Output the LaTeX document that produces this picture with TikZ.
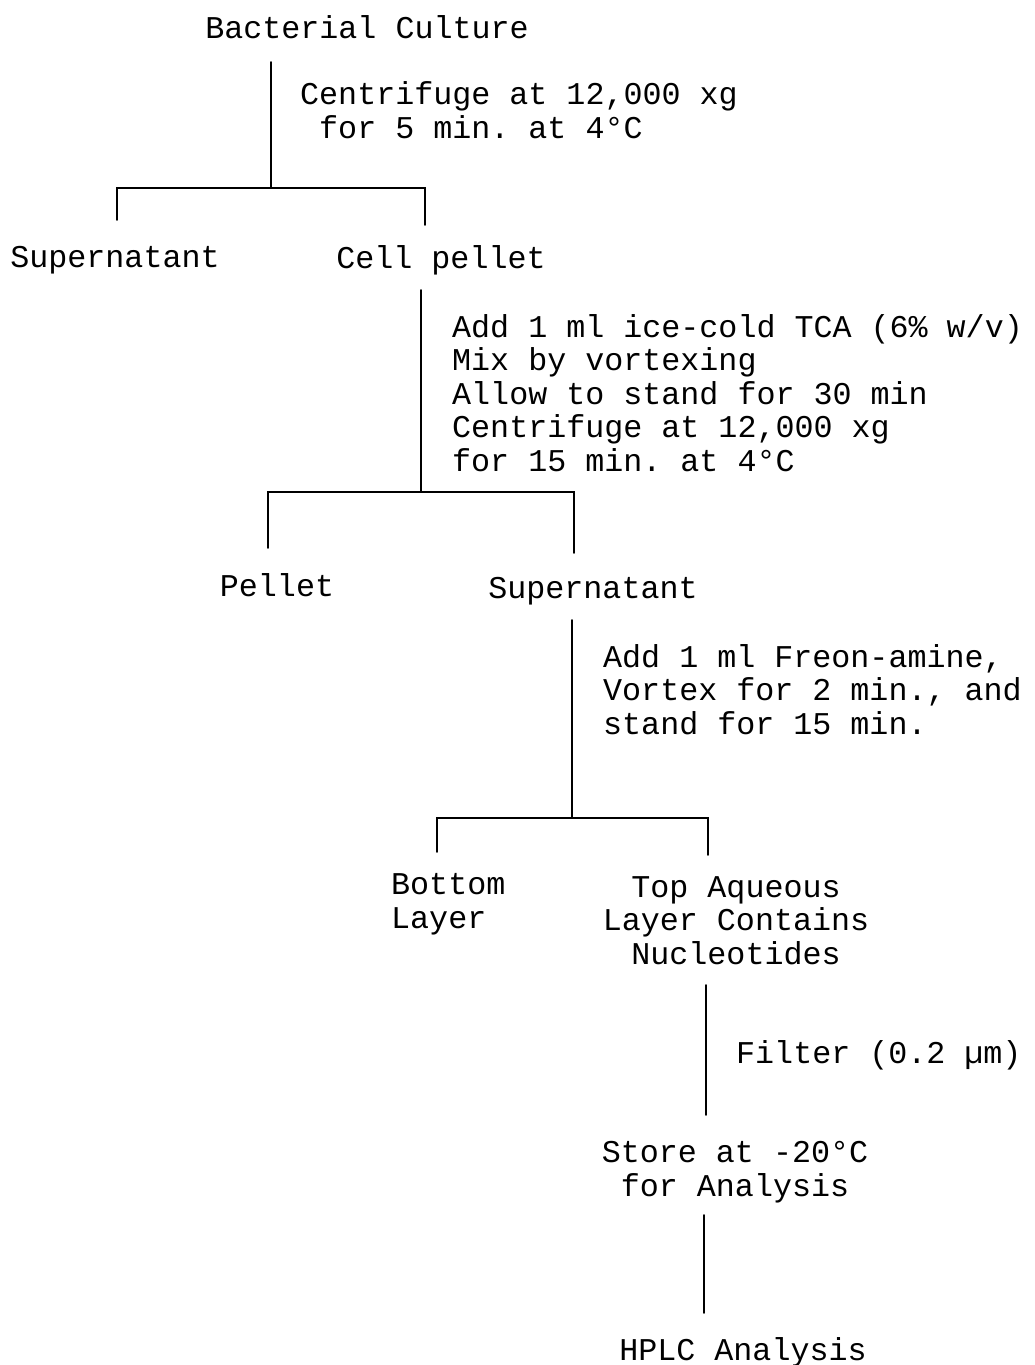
\documentclass[tikz,border=0pt]{standalone}
\usepackage{fontspec}
\setmonofont{Liberation Mono}
\usetikzlibrary{positioning}
\newcommand{\flowfont}{\ttfamily\fontsize{31.7}{33.4}\selectfont}

\begin{document}
\begin{tikzpicture}[
    x=1pt, y=-1pt,
    txt/.style={font=\flowfont, inner sep=0pt, anchor=base},
    note/.style={font=\flowfont, inner sep=0pt, anchor=base west, align=left},
    line/.style={line width=1.6pt, line cap=round}
]
\useasboundingbox (0,0) rectangle (1035,1365);

% Starting material (multi-line nodes sit on their last baseline)
\node[txt] (culture) at (367,38) {Bacterial Culture};
\node[note] (spin1) at (300,138) {Centrifuge at 12,000 xg\\\hphantom{x}for 5 min. at 4°C};

% First split
\node[txt] (sup1) at (115,267) {Supernatant};
\node[txt] (cells) at (441,268) {Cell pellet};
\node[note] (tca) at (452,471) {Add 1 ml ice-cold TCA (6\% w/v)\\Mix by vortexing\\Allow to stand for 30 min\\Centrifuge at 12,000 xg\\for 15 min. at 4°C};

% Second split
\node[txt] (pellet2) at (277,596) {Pellet};
\node[txt] (sup2) at (593,598) {Supernatant};
\node[note] (freon) at (603,734) {Add 1 ml Freon-amine,\\Vortex for 2 min., and\\stand for 15 min.};

% Third split
\node[note] (bottom) at (391,928) {Bottom\\Layer};
\node[txt, align=center] (aqueous) at (736,964) {Top Aqueous\\Layer Contains\\Nucleotides};
\node[note] (filter) at (736,1063) {Filter (0.2 µm)};

% Storage and analysis
\node[txt, align=center] (store) at (735,1196) {Store at -20°C\\for Analysis};
\node[txt] (hplc) at (743,1360) {HPLC Analysis};

% Connector ends
\coordinate (a1) at (271,62);  \coordinate (j1) at (271,188);
\coordinate (l1) at (117,220); \coordinate (r1) at (425,225);
\coordinate (a2) at (421,290); \coordinate (j2) at (421,492);
\coordinate (l2) at (268,548); \coordinate (r2) at (574,553);
\coordinate (a3) at (572,620); \coordinate (j3) at (572,818);
\coordinate (l3) at (437,852); \coordinate (r3) at (708,855);
\coordinate (a4) at (706,985); \coordinate (b4) at (706,1115);
\coordinate (a5) at (704,1215); \coordinate (b5) at (704,1313);

\draw[line] (a1) -- (j1);
\draw[line] (l1) |- (j1) -| (r1);
\draw[line] (a2) -- (j2);
\draw[line] (l2) |- (j2) -| (r2);
\draw[line] (a3) -- (j3);
\draw[line] (l3) |- (j3) -| (r3);
\draw[line] (a4) -- (b4);
\draw[line] (a5) -- (b5);
\end{tikzpicture}
\end{document}
